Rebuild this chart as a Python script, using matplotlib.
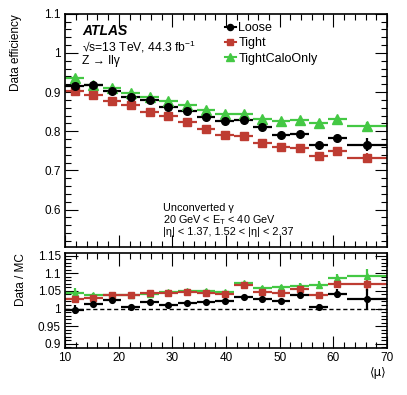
import numpy as np
import matplotlib.pyplot as plt
from matplotlib.ticker import MultipleLocator
from matplotlib.lines import Line2D

plt.rcParams['font.family'] = ['Liberation Sans', 'DejaVu Sans']
plt.rcParams['mathtext.fontset'] = 'custom'
plt.rcParams['mathtext.rm'] = 'Liberation Sans'
plt.rcParams['mathtext.it'] = 'Liberation Sans:italic'

# <mu> bins
edges = [10, 13.5, 17, 20.5, 24, 27.5, 31, 34.5, 38, 41.5, 45, 48.5, 52, 55.5, 59, 62.5, 70]

# data efficiency
eff_loose = [0.917, 0.919, 0.904, 0.887, 0.879, 0.862, 0.853, 0.837, 0.826,
             0.828, 0.811, 0.790, 0.792, 0.765, 0.782, 0.766]
eff_tight = [0.902, 0.892, 0.877, 0.867, 0.850, 0.839, 0.823, 0.805, 0.790,
             0.788, 0.771, 0.760, 0.758, 0.737, 0.751, 0.733]
eff_calo = [0.937, 0.918, 0.911, 0.898, 0.888, 0.877, 0.866, 0.854, 0.843,
            0.845, 0.832, 0.826, 0.828, 0.822, 0.832, 0.813]
err_loose = [0.005, 0.003, 0.003, 0.003, 0.003, 0.003, 0.003, 0.003, 0.003,
             0.003, 0.003, 0.003, 0.004, 0.005, 0.006, 0.016]
err_tight = [0.005, 0.003, 0.003, 0.003, 0.003, 0.003, 0.003, 0.003, 0.003,
             0.003, 0.003, 0.003, 0.004, 0.005, 0.006, 0.012]
err_calo = [0.005, 0.003, 0.003, 0.003, 0.003, 0.003, 0.003, 0.003, 0.003,
            0.003, 0.003, 0.003, 0.004, 0.005, 0.006, 0.011]

# data / MC
sf_loose = [0.997, 1.014, 1.024, 1.005, 1.019, 1.009, 1.016, 1.019, 1.021,
            1.033, 1.026, 1.021, 1.038, 1.005, 1.042, 1.026]
sf_tight = [1.026, 1.031, 1.037, 1.037, 1.043, 1.045, 1.048, 1.045, 1.042,
            1.067, 1.048, 1.045, 1.054, 1.037, 1.070, 1.069]
sf_calo = [1.045, 1.037, 1.037, 1.038, 1.042, 1.047, 1.050, 1.051, 1.047,
           1.071, 1.059, 1.061, 1.064, 1.068, 1.086, 1.092]
sferr_loose = [0.012, 0.007, 0.005, 0.004, 0.004, 0.004, 0.004, 0.004, 0.004,
               0.004, 0.005, 0.006, 0.008, 0.009, 0.013, 0.028]
sferr_tight = [0.010, 0.006, 0.004, 0.004, 0.004, 0.004, 0.004, 0.004, 0.004,
               0.004, 0.005, 0.006, 0.007, 0.008, 0.011, 0.018]
sferr_calo = [0.012, 0.007, 0.005, 0.004, 0.004, 0.004, 0.004, 0.004, 0.004,
              0.004, 0.005, 0.006, 0.008, 0.009, 0.013, 0.020]

edges = np.array(edges)
xc = (edges[:-1] + edges[1:]) / 2
xw = (edges[1:] - edges[:-1]) / 2

red = '#be3c32'
green = '#44c844'
series = [
    ('Loose', 'black', 'o', 5.5, eff_loose, err_loose, sf_loose, sferr_loose),
    ('Tight', red, 's', 5.5, eff_tight, err_tight, sf_tight, sferr_tight),
    ('TightCaloOnly', green, '^', 6.5, eff_calo, err_calo, sf_calo, sferr_calo),
]

fig = plt.figure(figsize=(4.07, 3.95), dpi=100)
ax = fig.add_axes([0.160, 0.375, 0.791, 0.590])
rx = fig.add_axes([0.160, 0.119, 0.791, 0.241])

# draw order: green, red, black on top
for name, col, mk, ms, eff, err, sf, sferr in reversed(series):
    ax.errorbar(xc, eff, xerr=xw, yerr=err, fmt=mk, color=col, ms=ms,
                elinewidth=1.6, capsize=0, mec=col)
    rx.errorbar(xc, sf, xerr=xw, yerr=sferr, fmt=mk, color=col, ms=ms * 0.75,
                elinewidth=1.6, capsize=0, mec=col)

rx.plot([10, 70], [1, 1], ls='--', color='black', lw=1, dashes=(3, 2))

ax.set_xlim(10, 70)
ax.set_ylim(0.505, 1.1)
rx.set_xlim(10, 70)
rx.set_ylim(0.888, 1.158)

for a in (ax, rx):
    a.tick_params(which='both', direction='in', top=True, right=True,
                  labelsize=8.5, pad=3)
    a.tick_params(which='major', length=9, width=0.8)
    a.tick_params(which='minor', length=4.5, width=0.8)
    a.xaxis.set_major_locator(MultipleLocator(10))
    a.xaxis.set_minor_locator(MultipleLocator(2))
    for s in a.spines.values():
        s.set_linewidth(1.2)

ax.yaxis.set_major_locator(MultipleLocator(0.1))
ax.yaxis.set_minor_locator(MultipleLocator(0.02))
ax.set_yticks([0.6, 0.7, 0.8, 0.9, 1.0, 1.1])
ax.set_yticklabels(['0.6', '0.7', '0.8', '0.9', '1', '1.1'])
ax.tick_params(labelbottom=False)

rx.set_yticks([0.9, 0.95, 1.0, 1.05, 1.1, 1.15])
rx.set_yticklabels(['0.9', '0.95', '1', '1.05', '1.1', '1.15'])
rx.yaxis.set_minor_locator(MultipleLocator(0.01))
rx.set_xticks([10, 20, 30, 40, 50, 60, 70])
rx.set_xticklabels(['10', '20', '30', '40', '50', '60', '70'])

ax.set_ylabel('Data efficiency', fontsize=8.5, loc='top', labelpad=16)
rx.set_ylabel('Data / MC', fontsize=8.5, loc='top', labelpad=8)
rx.set_xlabel('⟨μ⟩', fontsize=8.5, loc='right', labelpad=1,
              family=['DejaVu Sans'])

# labels
ax.text(0.052, 0.925, 'ATLAS', transform=ax.transAxes, fontsize=10,
        fontweight='bold', style='italic', va='center')
ax.text(0.052, 0.858, r'√s=13 TeV, 44.3 fb$^{-1}$',
        transform=ax.transAxes, fontsize=8.7, va='center')
ax.text(0.052, 0.797, 'Z → llγ', transform=ax.transAxes, fontsize=8.7,
        va='center')

ax.text(0.305, 0.168, 'Unconverted γ', transform=ax.transAxes, fontsize=7.8,
        va='center')
ax.text(0.305, 0.116, r'20 GeV < E$_{\mathrm{T}}$ < 40 GeV',
        transform=ax.transAxes, fontsize=7.8, va='center')
ax.text(0.305, 0.064, '|η| < 1.37, 1.52 < |η| < 2.37',
        transform=ax.transAxes, fontsize=7.8, va='center')

handles = []
for name, col, mk, ms, *_ in series:
    handles.append(Line2D([], [], color=col, marker=mk, ms=ms * 0.8, lw=1.5))
ax.legend(handles, [s[0] for s in series], loc='upper left',
          bbox_to_anchor=(0.48, 0.985), frameon=False, fontsize=9,
          handlelength=0.9, handletextpad=0.2, labelspacing=0.25,
          borderaxespad=0)

fig.savefig('out.png', dpi=100)
